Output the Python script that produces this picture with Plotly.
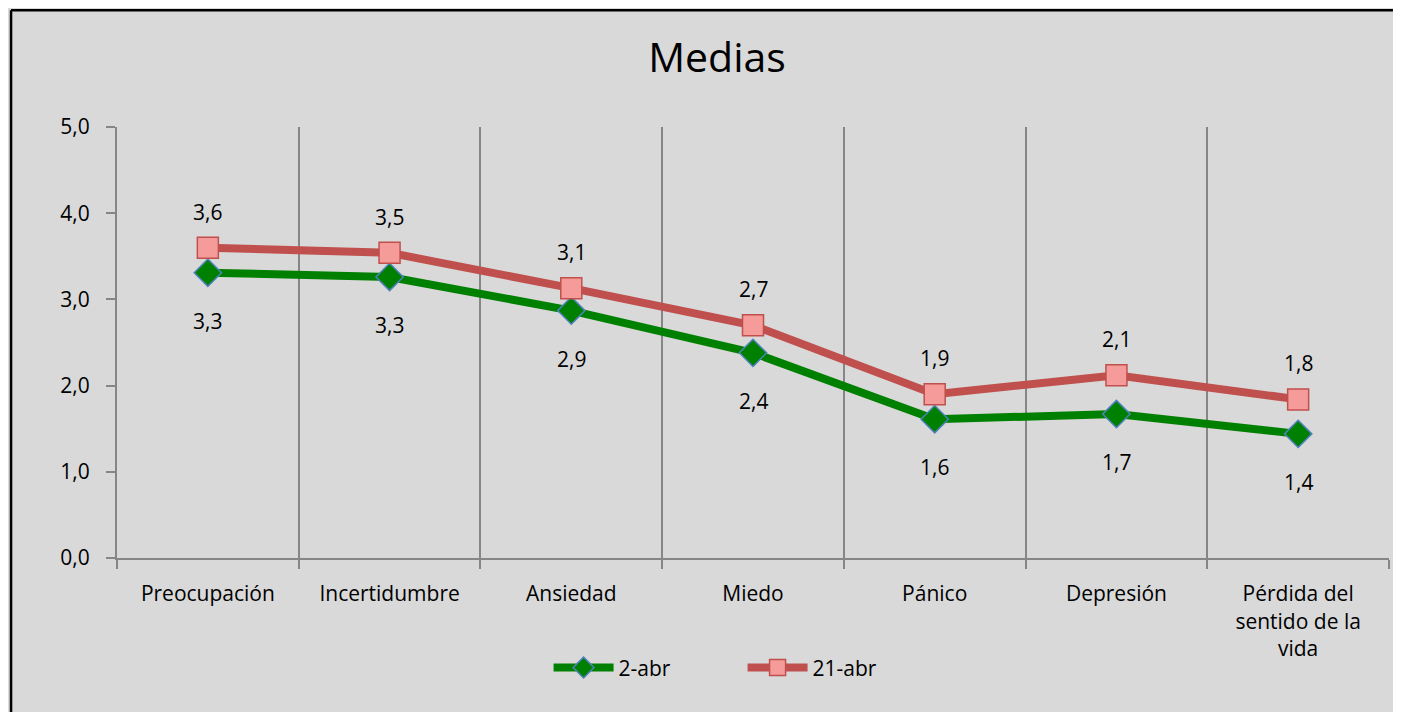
import plotly.graph_objects as go

categories = ["Preocupación", "Incertidumbre", "Ansiedad", "Miedo", "Pánico",
              "Depresión", "Pérdida del<br>sentido de la<br>vida"]
abr_2 = [3.31, 3.26, 2.87, 2.38, 1.61, 1.67, 1.44]
abr_21 = [3.60, 3.54, 3.13, 2.70, 1.90, 2.12, 1.84]
y_ticks = [0, 1, 2, 3, 4, 5]

FONT = "'Open Sans', Lato, sans-serif"
GRAY = "#868686"


def fmt(v):
    return f"{v:.1f}".replace(".", ",")


fig = go.Figure()

fig.add_trace(go.Scatter(
    x=categories, y=abr_2, name="2-abr", mode="lines+markers",
    line=dict(color="#008000", width=8),
    marker=dict(symbol="diamond", size=21, color="#008000",
                line=dict(color="#4F81BD", width=1.5)),
))
fig.add_trace(go.Scatter(
    x=categories, y=abr_21, name="21-abr", mode="lines+markers",
    line=dict(color="#C0504D", width=8),
    marker=dict(symbol="square", size=21, color="#F59B99",
                line=dict(color="#C0504D", width=1.5)),
))

# data labels: green below, red above
for c, v in zip(categories, abr_2):
    fig.add_annotation(x=c, y=v, text=fmt(v), showarrow=False, yshift=-48,
                       font=dict(size=21, color="black", family=FONT))
for c, v in zip(categories, abr_21):
    fig.add_annotation(x=c, y=v, text=fmt(v), showarrow=False, yshift=36,
                       font=dict(size=21, color="black", family=FONT))

# chart frame: only top and left edges are visible
fig.add_shape(type="line", xref="paper", yref="paper",
              x0=-0.0833, x1=1.2, y0=1.271, y1=1.271,
              line=dict(color="black", width=2.5))
fig.add_shape(type="line", xref="paper", yref="paper",
              x0=-0.0833, x1=-0.0833, y0=-0.6, y1=1.271,
              line=dict(color="black", width=2.5))

fig.update_layout(
    width=1393, height=704,
    separators=",.",
    paper_bgcolor="#D9D9D9",
    plot_bgcolor="#D9D9D9",
    font=dict(family=FONT, size=20, color="black"),
    margin=dict(l=109, r=12, t=119, b=154),
    title=dict(text="Medias", x=0.4717, xref="paper", xanchor="center",
               y=1 - 50 / 704, yanchor="middle",
               font=dict(size=41, family=FONT, color="black")),
    showlegend=True,
    legend=dict(orientation="h", x=0.4918, xanchor="center", y=-0.255,
                yanchor="middle", bgcolor="rgba(0,0,0,0)",
                font=dict(size=21, family=FONT), itemwidth=60,
                entrywidth=119),
    xaxis=dict(
        type="category", tickson="boundaries", showgrid=True,
        gridcolor=GRAY, gridwidth=1.5, showline=True, linecolor=GRAY,
        linewidth=2, ticks="outside", ticklen=9, tickcolor=GRAY,
        tickwidth=1.5, range=[-0.5, 6.5],
        tickfont=dict(size=21), ticklabelstandoff=16,
    ),
    yaxis=dict(
        range=[0, 5], tickvals=y_ticks, tickformat=".1f", showgrid=False,
        zeroline=False, showline=True, linecolor=GRAY, linewidth=2,
        ticks="outside", ticklen=9, tickcolor=GRAY, tickwidth=1.5,
        tickfont=dict(size=21), ticklabelstandoff=12,
    ),
)

fig.write_html("out.html")
